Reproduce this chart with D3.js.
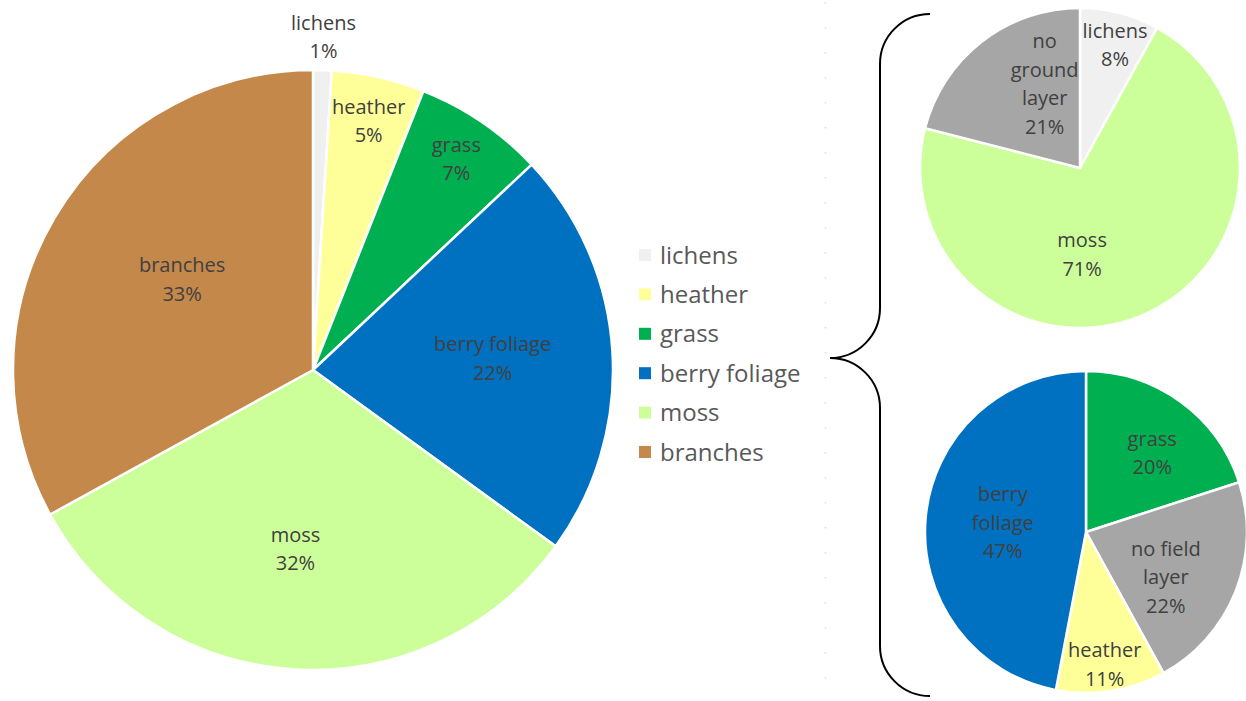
<!DOCTYPE html>
<html>
<head>
<meta charset="utf-8">
<script src="https://cdn.jsdelivr.net/npm/d3@7"></script>
<style>
  body { margin: 0; background: #fff; }
  svg text { font-family: "Open Sans", Lato, sans-serif; }
</style>
</head>
<body>
<div id="chart"></div>
<script>
// --- data ---
// main pie: all litter
const mainCats   = ["lichens", "heather", "grass", "berry foliage", "moss", "branches"];
const mainValues = [1, 5, 7, 22, 32, 33];

// top right: ground layer
const groundCats   = ["lichens", "moss", "no ground layer"];
const groundValues = [8, 71, 21];

// bottom right: field layer
const fieldCats   = ["grass", "no field layer", "heather", "berry foliage"];
const fieldValues = [20, 22, 11, 47];

// how the slice labels break over lines
const labelLines = {
  "no ground layer": ["no", "ground", "layer"],
  "no field layer": ["no field", "layer"]
};

const colors = {
  "lichens": "#f0f0f0",
  "heather": "#ffff99",
  "grass": "#00b050",
  "berry foliage": "#0070c0",
  "moss": "#ccff99",
  "branches": "#c5884b",
  "no ground layer": "#a6a6a6",
  "no field layer": "#a6a6a6"
};

const width = 1246, height = 701;
const svg = d3.select("#chart").append("svg")
  .attr("width", width).attr("height", height);

// faint dotted guide between legend and brace
svg.append("line")
  .attr("x1", 825.5).attr("x2", 825.5)
  .attr("y1", 2).attr("y2", height)
  .style("stroke", "#d9d9d9")
  .style("stroke-width", 1.5)
  .style("stroke-dasharray", "1.5,23.5");

function drawPie(cfg) {
  const pie = d3.pie().sort(null).value(d => d.v);
  const arcs = pie(cfg.cats.map((c, i) => ({c: c, v: cfg.values[i]})));
  const arc = d3.arc().innerRadius(0).outerRadius(cfg.r);

  const g = svg.append("g").attr("transform", `translate(${cfg.cx},${cfg.cy})`);

  g.selectAll("path")
    .data(arcs)
    .enter()
    .append("path")
    .attr("d", arc)
    .style("fill", d => colors[d.data.c])
    .style("stroke", "#fff")
    .style("stroke-width", 2.5)
    .style("stroke-linejoin", "round");

  arcs.forEach((d, i) => {
    let a = (d.startAngle + d.endAngle) / 2 + cfg.nudge[i] * Math.PI / 180;
    let rr = cfg.r * cfg.labelR[i];
    let x = rr * Math.sin(a), y = -rr * Math.cos(a);
    let lines = (cfg.lines && labelLines[d.data.c]) ? labelLines[d.data.c].slice() :
                (cfg.splitBerry && d.data.c == "berry foliage") ? ["berry", "foliage"] : [d.data.c];
    lines.push(d.data.v + "%");
    let lh = 28.5;
    let t = g.append("text")
      .attr("text-anchor", "middle")
      .style("font-size", "20px")
      .style("fill", "#404040");
    lines.forEach((s, k) => {
      t.append("tspan")
        .attr("x", x)
        .attr("y", y + (k - (lines.length - 1) / 2) * lh + 7)
        .text(s);
    });
  });
}

drawPie({cats: mainCats, values: mainValues, cx: 313, cy: 370, r: 300,
  labelR: [1.11, 0.85, 0.85, 0.6, 0.6, 0.53], nudge: [0, 0, 0, 0, 2, 4]});

drawPie({cats: groundCats, values: groundValues, cx: 1080, cy: 168, r: 160,
  labelR: [0.8, 0.54, 0.57], nudge: [1.5, 22, 15], lines: true});

drawPie({cats: fieldCats, values: fieldValues, cx: 1086, cy: 532, r: 161,
  labelR: [0.64, 0.57, 0.83, 0.52], nudge: [4, 8, 1, 1], lines: true, splitBerry: true});

// legend for the main pie
const legend = svg.append("g").attr("transform", "translate(639,255)");
const ly = d3.scalePoint().domain(mainCats).range([0, 197]);
legend.selectAll("rect")
  .data(mainCats)
  .enter()
  .append("rect")
  .attr("x", 0)
  .attr("y", d => ly(d) - 6)
  .attr("width", 12)
  .attr("height", 12)
  .style("fill", d => colors[d]);
legend.selectAll("text")
  .data(mainCats)
  .enter()
  .append("text")
  .attr("x", 21)
  .attr("y", d => ly(d) + 8.5)
  .style("font-size", "24px")
  .style("fill", "#595959")
  .text(d => d);

// brace tying the two small pies to the main one
svg.append("path")
  .attr("d", "M930,14 A50,50 0 0 0 880,64 L880,308 A50,50 0 0 1 830,358 " +
             "A50,50 0 0 1 880,408 L880,646 A50,50 0 0 0 930,696")
  .style("fill", "none")
  .style("stroke", "#000")
  .style("stroke-width", 2);
</script>
</body>
</html>
